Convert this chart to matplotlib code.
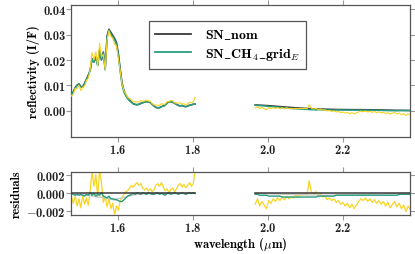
import matplotlib

matplotlib.use("Agg")
from matplotlib import pyplot as plt
import numpy as np

# short-wavelength band (um)
wl1 = [1.476, 1.481, 1.486, 1.491, 1.496, 1.501, 1.506, 1.511, 1.516, 1.521,
       1.526, 1.531, 1.536, 1.541, 1.546, 1.551, 1.556, 1.561, 1.566, 1.571,
       1.576, 1.581, 1.586, 1.591, 1.596, 1.601, 1.606, 1.611, 1.616, 1.621,
       1.626, 1.631, 1.636, 1.641, 1.646, 1.651, 1.656, 1.661, 1.666, 1.671,
       1.676, 1.681, 1.686, 1.691, 1.696, 1.701, 1.706, 1.711, 1.716, 1.721,
       1.726, 1.731, 1.736, 1.741, 1.746, 1.751, 1.756, 1.761, 1.766, 1.771,
       1.776, 1.781, 1.786, 1.791, 1.796, 1.801, 1.806]
nom1 = [0.0062, 0.0076, 0.0091, 0.0101, 0.0106, 0.0095, 0.0094, 0.0109, 0.0124, 0.0141,
        0.0160, 0.0205, 0.0192, 0.0212, 0.0180, 0.0240, 0.0200, 0.0232, 0.0165, 0.0295,
        0.0322, 0.0310, 0.0298, 0.0286, 0.0270, 0.0228, 0.0165, 0.0110, 0.0080, 0.0063,
        0.0050, 0.0041, 0.0034, 0.0027, 0.0025, 0.0023, 0.0025, 0.0029, 0.0031, 0.0034,
        0.0036, 0.0035, 0.0032, 0.0026, 0.0019, 0.0013, 0.0011, 0.0012, 0.0016, 0.0018,
        0.0023, 0.0030, 0.0035, 0.0036, 0.0033, 0.0029, 0.0025, 0.0021, 0.0019, 0.0020,
        0.0017, 0.0016, 0.0018, 0.0021, 0.0023, 0.0025, 0.0026]
res_obs1 = [-0.0004, -0.0011, -0.0003, -0.0014, -0.0006, -0.0016, -0.0002, -0.0012, -0.0005, -0.0013,
            0.0004, 0.0024, 0.0008, 0.0021, -0.0004, 0.0026, 0.0012, -0.0010, -0.0003, -0.0015,
            -0.0006, -0.0017, -0.0011, -0.0023, -0.0014, -0.0019, -0.0008, -0.0005, -0.0001, 0.0002,
            0.0003, 0.0006, 0.0009, 0.0007, 0.0010, 0.0012, 0.0009, 0.0011, 0.0006, 0.0004,
            0.0006, 0.0003, 0.0005, 0.0002, 0.0004, 0.0009, 0.0011, 0.0008, 0.0012, 0.0007,
            0.0003, 0.0005, 0.0001, 0.0004, 0.0006, 0.0002, 0.0005, 0.0009, 0.0011, 0.0007,
            0.0010, 0.0006, 0.0009, 0.0012, 0.0008, 0.0011, 0.0027]
res_gridE1 = [0.0000, -0.0001, -0.0002, -0.0001, -0.0002, -0.0001, -0.0002, -0.0003, -0.0001, -0.0002,
              0.0001, -0.0002, 0.0000, -0.0003, -0.0001, -0.0002, 0.0001, -0.0003, -0.0004, -0.0005,
              -0.0003, -0.0006, -0.0006, -0.0007, -0.0007, -0.0008, -0.0009, -0.0009, -0.0007, -0.0005,
              -0.0003, -0.0002, -0.0001, 0.0000, -0.0001, 0.0001, 0.0000, -0.0001, 0.0001, 0.0000,
              -0.0001, 0.0001, 0.0000, -0.0001, -0.0001, 0.0000, 0.0001, -0.0001, 0.0000, -0.0001,
              -0.0002, 0.0000, 0.0001, -0.0001, 0.0000, 0.0001, 0.0000, -0.0001, 0.0000, 0.0001,
              0.0000, -0.0001, 0.0000, 0.0001, 0.0000, 0.0001, 0.0000]

# long-wavelength band
wl2 = [1.966, 1.972, 1.978, 1.984, 1.990, 1.996, 2.002, 2.008, 2.014, 2.020,
       2.026, 2.032, 2.038, 2.044, 2.050, 2.056, 2.062, 2.068, 2.074, 2.080,
       2.086, 2.092, 2.098, 2.104, 2.110, 2.116, 2.122, 2.128, 2.134, 2.140,
       2.146, 2.152, 2.158, 2.164, 2.170, 2.176, 2.182, 2.188, 2.194, 2.200,
       2.206, 2.212, 2.218, 2.224, 2.230, 2.236, 2.242, 2.248, 2.254, 2.260,
       2.266, 2.272, 2.278, 2.284, 2.290, 2.296, 2.302, 2.308, 2.314, 2.320,
       2.326, 2.332, 2.338, 2.344, 2.350, 2.356, 2.362, 2.368, 2.374, 2.380]
nom2 = [0.00225, 0.00222, 0.00218, 0.00213, 0.00208, 0.00202, 0.00196, 0.00190, 0.00183, 0.00176,
        0.00169, 0.00162, 0.00155, 0.00148, 0.00141, 0.00134, 0.00127, 0.00120, 0.00114, 0.00108,
        0.00102, 0.00097, 0.00092, 0.00087, 0.00083, 0.00079, 0.00075, 0.00071, 0.00068, 0.00065,
        0.00062, 0.00059, 0.00056, 0.00054, 0.00052, 0.00050, 0.00048, 0.00046, 0.00045, 0.00044,
        0.00043, 0.00042, 0.00041, 0.00041, 0.00040, 0.00040, 0.00039, 0.00039, 0.00038, 0.00037,
        0.00036, 0.00035, 0.00034, 0.00033, 0.00031, 0.00030, 0.00028, 0.00026, 0.00024, 0.00022,
        0.00020, 0.00018, 0.00016, 0.00014, 0.00013, 0.00012, 0.00011, 0.00010, 0.00009, 0.00008]
res_obs2 = [-0.0012, -0.0006, -0.0014, -0.0009, -0.0013, -0.0017, -0.0008, -0.0011, -0.0006, -0.0009,
            -0.0005, -0.0008, -0.0004, -0.0007, -0.0003, -0.0006, -0.0004, -0.0005, -0.0002, -0.0004,
            -0.0001, -0.0002, 0.0000, -0.0002, 0.0014, 0.0001, -0.0001, 0.0002, -0.0002, 0.0000,
            -0.0004, -0.0003, -0.0007, -0.0005, -0.0008, -0.0006, -0.0010, -0.0008, -0.0012, -0.0010,
            -0.0014, -0.0011, -0.0016, -0.0012, -0.0017, -0.0013, -0.0009, -0.0006, -0.0008, -0.0005,
            -0.0009, -0.0006, -0.0010, -0.0007, -0.0011, -0.0008, -0.0012, -0.0009, -0.0014, -0.0010,
            -0.0016, -0.0012, -0.0009, -0.0015, -0.0011, -0.0017, -0.0013, -0.0020, -0.0014, -0.0018]
res_gridE2 = [-0.0001, -0.0001, -0.0002, -0.0002, -0.0002, -0.0002, -0.0003, -0.0003, -0.0003, -0.0003,
              -0.0003, -0.0003, -0.0004, -0.0004, -0.0004, -0.0004, -0.0004, -0.0004, -0.0004, -0.0004,
              -0.0004, -0.0004, -0.0004, -0.0004, -0.0004, -0.0004, -0.0004, -0.0004, -0.0003, -0.0003,
              -0.0003, -0.0003, -0.0003, -0.0003, -0.0003, -0.0003, -0.0002, -0.0002, -0.0002, -0.0002,
              -0.0002, -0.0002, -0.0002, -0.0002, -0.0002, -0.0002, -0.0002, -0.0002, -0.0002, -0.0002,
              -0.0002, -0.0002, -0.0002, -0.0002, -0.0002, -0.0002, -0.0002, -0.0002, -0.0002, -0.0002,
              -0.0002, -0.0002, -0.0002, -0.0002, -0.0001, -0.0001, -0.0001, -0.0001, -0.0001, -0.0001]

# a third (grey) model, residuals only
grey_wl1 = [1.476, 1.52, 1.55, 1.58, 1.60, 1.62, 1.65, 1.70, 1.75, 1.806]
grey_res1 = [-0.0001, -0.0002, -0.0004, -0.0006, -0.0006, -0.0004, -0.0001, 0.0, 0.0, 0.0]
grey_wl2 = [1.966, 2.05, 2.15, 2.25, 2.38]
grey_res2 = [0.0, -0.0001, -0.0002, -0.0001, 0.0]

labels = [r"SN$\_$nom", r"SN$\_$CH$_4\_$grid$_E$"]

BLACK, TEAL, YELLOW, GREY, FRAME = "#3a3a3a", "#2a9d80", "#f9d423", "#c8c8c8", "#555555"

plt.rcParams.update({
    "font.family": ["cmb10", "DejaVu Serif"],
    "mathtext.fontset": "cm",
    "axes.formatter.use_mathtext": True,
    "axes.unicode_minus": True,
    "font.size": 9,
})


def style(ax):
    for s in ax.spines.values():
        s.set_color(FRAME)
        s.set_linewidth(0.9)
    ax.tick_params(direction="out", length=3.5, width=0.8, color="#999999", pad=0.5,
                   labelsize=9, top=True, right=True, labelcolor="#222222")
    ax.set_xlim(1.4747, 2.379)
    ax.set_xticks([1.6, 1.8, 2.0, 2.2])


fig = plt.figure(figsize=(4.15, 2.55), dpi=100)
ax1 = fig.add_axes([0.171, 0.459, 0.817, 0.517])
ax2 = fig.add_axes([0.171, 0.153, 0.817, 0.169])

obs1 = np.array(nom1) + np.array(res_obs1)
obs2 = np.array(nom2) + np.array(res_obs2)
gE1 = np.array(nom1) + np.array(res_gridE1)
gE2 = np.array(nom2) + np.array(res_gridE2)

for wl, nom, gE, obs in [(wl1, nom1, gE1, obs1), (wl2, nom2, gE2, obs2)]:
    ax1.plot(wl, nom, color=BLACK, lw=1.1, zorder=2)
    ax1.plot(wl, gE, color=TEAL, lw=1.1, zorder=3)
    ax1.plot(wl, obs, color=YELLOW, lw=0.8, zorder=4)
ax1.plot([], [], color=BLACK, lw=1.3, label=labels[0])
ax1.plot([], [], color=TEAL, lw=1.3, label=labels[1])

ax1.set_ylim(-0.0104, 0.0417)
ax1.set_yticks([0.0, 0.01, 0.02, 0.03, 0.04])
ax1.yaxis.set_major_formatter(matplotlib.ticker.FormatStrFormatter("%.2f"))
ax1.set_ylabel("reflectivity (I/F)", labelpad=2)
leg = ax1.legend(loc="upper left", bbox_to_anchor=(0.21, 0.93), fancybox=False,
                 edgecolor=FRAME, framealpha=1, handlelength=2.6, borderpad=0.45,
                 labelspacing=0.35, handletextpad=1.0, fontsize=10)
leg.get_frame().set_linewidth(0.9)
style(ax1)

for wl, res_o, res_g, gw, gr in [(wl1, res_obs1, res_gridE1, grey_wl1, grey_res1),
                                 (wl2, res_obs2, res_gridE2, grey_wl2, grey_res2)]:
    ax2.plot(wl, res_o, color=YELLOW, lw=0.9, zorder=1)
    ax2.plot(gw, gr, color=GREY, lw=1.0, zorder=2)
    ax2.plot(wl, res_g, color=TEAL, lw=1.0, zorder=3)
    ax2.plot([wl[0], wl[-1]], [0, 0], color=BLACK, lw=1.1, zorder=4)

ax2.set_ylim(-0.0024, 0.0024)
ax2.set_yticks([-0.002, 0.0, 0.002])
ax2.yaxis.set_major_formatter(matplotlib.ticker.FuncFormatter(
    lambda v, p: ("$-$" if v < -1e-9 else "") + f"{abs(v):.3f}"))
ax2.set_ylabel("residuals", labelpad=2)
ax2.set_xlabel(r"wavelength ($\mu$m)", labelpad=1)
style(ax2)

fig.savefig("out.png", dpi=100)
